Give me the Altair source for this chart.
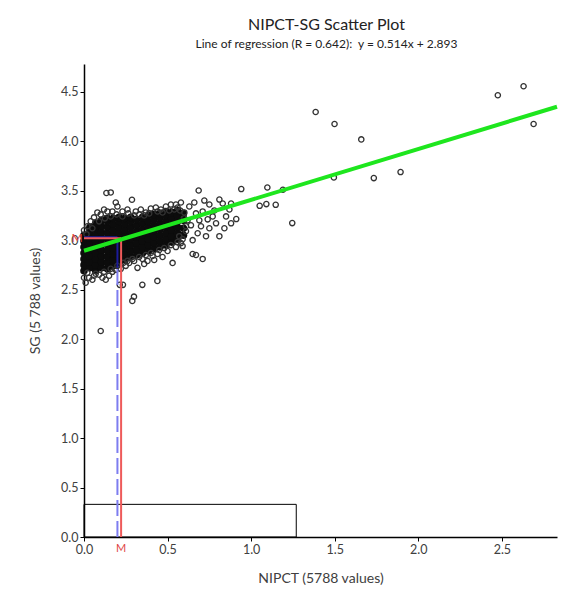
import altair as alt
import pandas as pd

# ---------------- data ----------------
# dense core of the cloud (solid black region), per column of NIPCT
core_col_x = [0.000, 0.035, 0.070, 0.105, 0.140, 0.175, 0.210, 0.245, 0.280,
              0.315, 0.350, 0.385, 0.420, 0.455, 0.490, 0.525, 0.560, 0.595]
core_col_y = [
    [2.69, 2.75, 2.81, 2.87, 2.93, 2.99, 3.05],
    [2.72, 2.78, 2.84, 2.90, 2.96, 3.02, 3.08, 3.13],
    [2.69, 2.75, 2.81, 2.87, 2.93, 2.99, 3.05, 3.11, 3.17],
    [2.72, 2.78, 2.84, 2.90, 2.96, 3.02, 3.08, 3.14, 3.20],
    [2.71, 2.77, 2.83, 2.89, 2.95, 3.01, 3.07, 3.13, 3.19, 3.22],
    [2.74, 2.80, 2.86, 2.92, 2.98, 3.04, 3.10, 3.16, 3.22],
    [2.77, 2.83, 2.89, 2.95, 3.01, 3.07, 3.13, 3.19, 3.23],
    [2.80, 2.86, 2.92, 2.98, 3.04, 3.10, 3.16, 3.22],
    [2.83, 2.89, 2.95, 3.01, 3.07, 3.13, 3.19, 3.23],
    [2.85, 2.91, 2.97, 3.03, 3.09, 3.15, 3.21],
    [2.87, 2.93, 2.99, 3.05, 3.11, 3.17, 3.23],
    [2.89, 2.95, 3.01, 3.07, 3.13, 3.19, 3.25],
    [2.91, 2.97, 3.03, 3.09, 3.15, 3.21, 3.26],
    [2.93, 2.99, 3.05, 3.11, 3.17, 3.23, 3.27],
    [2.95, 3.01, 3.07, 3.13, 3.19, 3.25, 3.29],
    [2.98, 3.04, 3.10, 3.16, 3.22, 3.28],
    [3.01, 3.07, 3.13, 3.19, 3.25, 3.30],
    [3.05, 3.12, 3.20, 3.27],
]

# individual open circles: outliers
out_x = [1.386, 1.499, 1.659, 2.476, 2.630, 2.690, 1.495, 1.734, 1.894, 1.190,
         1.246, 1.051, 1.091, 1.147, 1.097, 0.941, 0.911, 0.686, 0.134, 0.160,
         0.287, 0.100, 0.439, 0.349, 0.299, 0.289, 0.233, 0.214]
out_y = [4.295, 4.174, 4.018, 4.464, 4.555, 4.174, 3.634, 3.627, 3.688, 3.509,
         3.172, 3.347, 3.364, 3.357, 3.532, 3.516, 3.213, 3.502, 3.476, 3.482,
         3.408, 2.082, 2.588, 2.548, 2.429, 2.386, 2.548, 2.548]

# open circles: right part of the cloud
right_x = [0.81, 0.83, 0.88, 0.87, 0.85, 0.88, 0.84, 0.79, 0.77, 0.75, 0.73, 0.81,
           0.75, 0.70, 0.65, 0.65, 0.67, 0.71, 0.59, 0.53, 0.67, 0.63, 0.71, 0.57,
           0.61, 0.68, 0.62, 0.64, 0.60, 0.72, 0.69, 0.74, 0.78, 0.66, 0.58, 0.55]
right_y = [3.41, 3.37, 3.37, 3.31, 3.24, 3.17, 3.12, 3.17, 3.24, 3.36, 3.04, 3.04,
           3.12, 3.14, 3.00, 2.86, 2.85, 2.81, 2.94, 2.77, 3.27, 3.34, 3.29, 3.04,
           3.09, 3.07, 3.20, 3.15, 3.28, 3.40, 3.20, 3.21, 3.30, 3.38, 3.38, 3.36]

# open circles: upper and lower edge of the cloud
edge_x = [0.00, 0.02, 0.04, 0.06, 0.08, 0.10, 0.12, 0.14, 0.17, 0.19, 0.20, 0.23,
          0.26, 0.31, 0.34, 0.37, 0.40, 0.43, 0.46, 0.49, 0.52, 0.56,
          0.00, 0.01, 0.03, 0.05, 0.06, 0.09, 0.11, 0.13, 0.15, 0.17, 0.19, 0.22,
          0.25, 0.27, 0.30, 0.32, 0.35, 0.38, 0.41, 0.44, 0.47, 0.50, 0.55, 0.58,
          0.42, 0.36,
          0.015, 0.05, 0.09, 0.125, 0.16, 0.195, 0.23, 0.265, 0.30, 0.33, 0.36,
          0.39, 0.44, 0.47, 0.51, 0.54, 0.575, 0.60, 0.61,
          0.02, 0.07, 0.12, 0.16, 0.20, 0.235, 0.26, 0.29, 0.33, 0.37, 0.40,
          0.45, 0.48, 0.52, 0.56, 0.59]
edge_y = [3.10, 3.14, 3.19, 3.23, 3.28, 3.26, 3.31, 3.29, 3.29, 3.38, 3.34, 3.29,
          3.31, 3.29, 3.31, 3.28, 3.32, 3.33, 3.31, 3.34, 3.36, 3.33,
          2.62, 2.57, 2.62, 2.60, 2.64, 2.65, 2.62, 2.60, 2.64, 2.68, 2.70, 2.71,
          2.74, 2.77, 2.79, 2.72, 2.81, 2.79, 2.84, 2.86, 2.83, 2.89, 2.93, 2.97,
          2.80, 2.76,
          3.06, 3.12, 3.19, 3.22, 3.24, 3.26, 3.24, 3.27, 3.25, 3.26, 3.25,
          3.27, 3.29, 3.28, 3.30, 3.31, 3.30, 3.22, 3.14,
          2.67, 2.66, 2.68, 2.71, 2.74, 2.77, 2.79, 2.81, 2.83, 2.85, 2.87,
          2.90, 2.92, 2.95, 2.98, 3.01]

# regression line y = 0.514x + 2.893 across the axis range
reg_x = [0.0, 2.83]
reg_y = [2.893, 4.348]

# mean (red) and median (blue) of the two variables
mean_x, mean_y = 0.222, 3.02
med_x, med_y = 0.200, 3.03

# lower box
box_x, box_x2, box_y, box_y2 = 0.0, 1.27, 0.0, 0.33

x_ticks = [0.0, 0.5, 1.0, 1.5, 2.0, 2.5]
y_ticks = [0.0, 0.5, 1.0, 1.5, 2.0, 2.5, 3.0, 3.5, 4.0, 4.5]
x_domain = [0, 2.83]
y_domain = [0, 4.78]

FONT = "Lato"
TXT = "#404040"

# ---------------- tables ----------------
core_rows = []
for cx, ys in zip(core_col_x, core_col_y):
    for cy in ys:
        core_rows.append({"x": cx, "y": cy})
core_df = pd.DataFrame(core_rows)

ring_df = pd.DataFrame({"x": out_x + right_x + edge_x, "y": out_y + right_y + edge_y})
reg_df = pd.DataFrame({"x": reg_x, "y": reg_y})
box_df = pd.DataFrame({"x": [box_x], "x2": [box_x2], "y": [box_y], "y2": [box_y2]})

red_df = pd.DataFrame({
    "x": [mean_x, 0.0], "x2": [mean_x, mean_x],
    "y": [0.0, mean_y], "y2": [mean_y, mean_y],
})
blue_dash_df = pd.DataFrame({"x": [med_x], "x2": [med_x], "y": [0.0], "y2": [2.72]})
blue_solid_df = pd.DataFrame({
    "x": [med_x, 0.0], "x2": [med_x, med_x],
    "y": [2.72, med_y], "y2": [med_y, med_y],
})
m_y_df = pd.DataFrame({"x": [0.0], "y": [mean_y], "t": ["M"]})
m_x_df = pd.DataFrame({"x": [mean_x], "y": [0.0], "t": ["M"]})

xs = alt.Scale(domain=x_domain, nice=False, zero=False)
ys_ = alt.Scale(domain=y_domain, nice=False, zero=False)

X = alt.X("x:Q", scale=xs, title="NIPCT (5788 values)",
          axis=alt.Axis(values=x_ticks, format=".1f", grid=False, labelFlush=False))
Y = alt.Y("y:Q", scale=ys_, title="SG (5 788 values)",
          axis=alt.Axis(values=y_ticks, format=".1f", grid=False, labelFlush=False))

box = alt.Chart(box_df).mark_rect(fillOpacity=0, stroke="black", strokeWidth=1).encode(
    x=X, x2="x2:Q", y=Y, y2="y2:Q")

core = alt.Chart(core_df).mark_circle(size=58, color="#0c0c0c", opacity=1).encode(x=X, y=Y)

rings = alt.Chart(ring_df).mark_point(shape="circle", filled=False, size=28,
                                      color="#333333", strokeWidth=1.3, opacity=1).encode(x=X, y=Y)

blue_dash = alt.Chart(blue_dash_df).mark_rule(color="#7d7df0", strokeWidth=2,
                                              strokeDash=[16, 5]).encode(
    x=X, x2="x2:Q", y=Y, y2="y2:Q")
blue_solid = alt.Chart(blue_solid_df).mark_rule(color="#1c1c9a", strokeWidth=2).encode(
    x=X, x2="x2:Q", y=Y, y2="y2:Q")
red = alt.Chart(red_df).mark_rule(color="#ee5a5a", strokeWidth=2).encode(
    x=X, x2="x2:Q", y=Y, y2="y2:Q")

reg = alt.Chart(reg_df).mark_line(color="#1ee61e", strokeWidth=4).encode(x=X, y=Y)

m_y = alt.Chart(m_y_df).mark_text(color="#e04444", fontSize=12, font=FONT, dx=-7,
                                  align="center", baseline="middle").encode(x=X, y=Y, text="t:N")
m_x = alt.Chart(m_x_df).mark_text(color="#e04444", fontSize=11, font=FONT, dy=6,
                                  align="center", baseline="top").encode(x=X, y=Y, text="t:N")

chart = alt.layer(box, core, rings, blue_dash, blue_solid, red, reg, m_y, m_x).properties(
    width=473,
    height=473,
    padding={"left": 76, "top": 56, "right": 15, "bottom": 52},
    autosize=alt.AutoSizeParams(type="none"),
    title=alt.TitleParams(
        text="NIPCT-SG Scatter Plot",
        subtitle="Line of regression (R = 0.642):\u00a0 y = 0.514x + 2.893",
        font=FONT, subtitleFont=FONT, fontSize=16, subtitleFontSize=12,
        fontWeight="normal", color="#222222", subtitleColor="#222222",
        anchor="middle", offset=14, subtitlePadding=6, dx=6,
    ),
).configure_view(stroke=None).configure_axis(
    domainColor="black", domainWidth=1.5, tickColor="black", tickSize=4, tickWidth=1,
    labelFont=FONT, labelFontSize=12.5, labelColor=TXT, labelPadding=2,
    titleFont=FONT, titleFontSize=14, titleFontWeight="normal", titleColor=TXT,
).configure_axisX(titlePadding=16).configure_axisY(titlePadding=18)

chart.save("out.html", embed_options={"renderer": "svg", "actions": False})
